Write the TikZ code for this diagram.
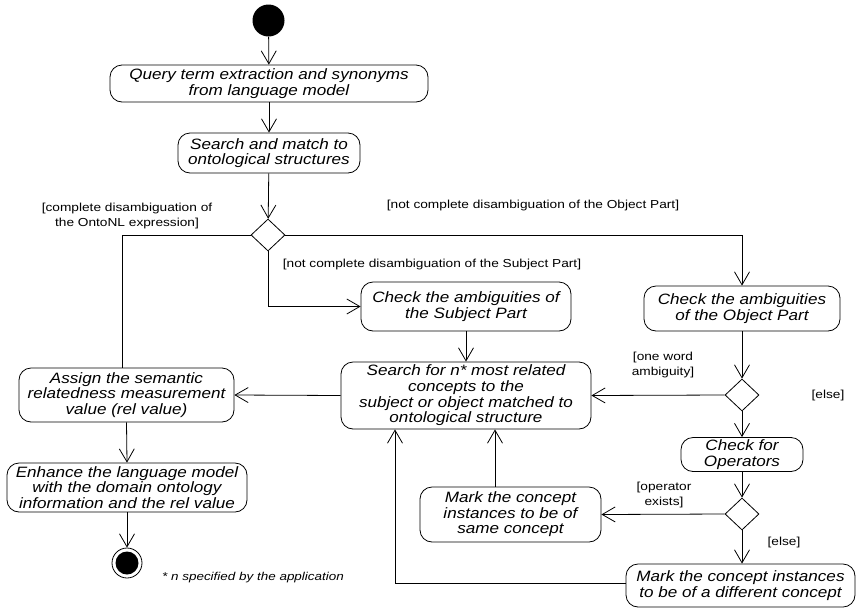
\documentclass[tikz,border=0pt]{standalone}
\usepackage{fontspec}
\setmainfont{Liberation Sans}
\newfontfamily\actfont[FakeStretch=1.14]{Liberation Sans}
\newfontfamily\guardfont[FakeStretch=1.18]{Liberation Sans}
\usetikzlibrary{arrows.meta,shapes.geometric}
\begin{document}
\begin{tikzpicture}[x=1pt,y=-1pt,
  every path/.style={line width=0.8pt},
  act/.style={draw,rounded corners=12pt,align=center,inner sep=0pt,font=\actfont\fontsize{15}{15.6}\selectfont\itshape},
  dec/.style={draw,diamond,minimum width=34pt,minimum height=32pt,inner sep=0pt},
  guard/.style={align=center,inner sep=0pt,font=\guardfont\fontsize{11.6}{15}\selectfont},
  flow/.style={-{Straight Barb[length=13pt,width=15pt]}}]
\useasboundingbox (0,0) rectangle (857,611);
% initial / final
\node[circle,fill=black,minimum size=32pt,inner sep=0pt] (start) at (268.5,20.5) {};
\node[circle,draw,minimum size=30pt,inner sep=0pt] (final) at (127,563) {};
\fill (final.center) circle (11.5pt);
% activities
\node[act,minimum width=318pt,minimum height=37pt] (q) at (269,83.5) {Query term extraction and synonyms\\from language model};
\node[act,minimum width=182pt,minimum height=40pt] (sm) at (269,153) {Search and match to\\ontological structures};
\node[dec] (d1) at (268,235) {};
\node[act,minimum width=210pt,minimum height=49pt] (cs) at (466,306.5) {Check the ambiguities of\\the Subject Part};
\node[act,minimum width=196pt,minimum height=45pt] (co) at (742,308.5) {Check the ambiguities\\of the Object Part};
\node[act,minimum width=250pt,minimum height=67pt] (sn) at (466,395.5) {Search for n* most related\\concepts to the\\subject or object matched to\\ontological structure};
\node[dec] (d2) at (742,395) {};
\node[act,minimum width=215pt,minimum height=54pt] (as) at (126.5,395) {Assign the semantic\\relatedness measurement\\value (rel value)};
\node[act,minimum width=240pt,minimum height=49pt] (en) at (127,487.5) {Enhance the language model\\with the domain ontology\\information and the rel value};
\node[act,minimum width=122pt,minimum height=34pt] (cop) at (742,454.5) {Check for\\Operators};
\node[dec] (d3) at (742,514) {};
\node[act,minimum width=181pt,minimum height=55pt] (ms) at (510.5,514.5) {Mark the concept\\instances to be of\\same concept};
\node[act,minimum width=229pt,minimum height=43pt] (md) at (740.5,585.5) {Mark the concept instances\\to be of a different concept};
% guards
\node[guard] (g1) at (127,215.5) {[complete disambiguation of\\the OntoNL expression]};
\node[guard] (g2) at (533,205) {[not complete disambiguation of the Object Part]};
\node[guard] (g3) at (432,264) {[not complete disambiguation of the Subject Part]};
\node[guard] (g4) at (663,365) {[one word\\ambiguity]};
\node[guard] (g5) at (828,395) {[else]};
\node[guard] (g6) at (664,495) {[operator\\exists]};
\node[guard] (g7) at (784,542) {[else]};
\node[inner sep=0pt,font=\guardfont\fontsize{11.4}{13}\selectfont\itshape] (fn) at (253,578) {* n specified by the application};
% flows
\draw[flow] (start) -- (q);
\draw[flow] (q) -- (sm);
\draw[flow] (sm) -- (d1);
\draw (d1.west) -| ([xshift=-4.5pt]as.north);
\draw[flow] (d1.east) -| (co.north);
\draw[flow] (d1.south) |- (cs.west);
\draw[flow] (cs.south) -- (sn.north);
\draw[flow] (co.south) -- (d2.north);
\draw[flow] (d2.west) -- (sn.east);
\draw[flow] (d2.south) -- (cop.north);
\draw[flow] (sn.west) -- (as.east);
\draw[flow] (as.south) -- (en.north);
\draw[flow] (en.south) -- (final);
\draw[flow] (cop.south) -- (d3.north);
\draw[flow] (d3.west) -- (ms.east);
\draw[flow] (d3.south) -- (d3.south |- md.north);
\draw[flow] ([xshift=-15.5pt]ms.north) -- ([xshift=-15.5pt]ms.north |- sn.south);
\draw[flow] ([yshift=2.5pt]md.west) -| ([xshift=-71pt]sn.south);
\end{tikzpicture}
\end{document}
